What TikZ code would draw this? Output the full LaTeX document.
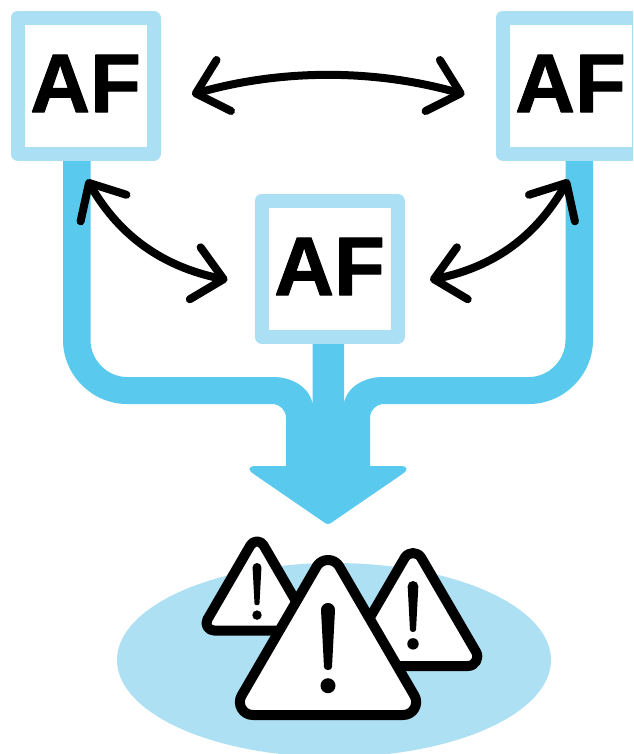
\documentclass[tikz,border=0pt]{standalone}
\usepackage{fontspec}
\setmainfont{Liberation Sans}
\newfontfamily\affont[FakeBold=1.2]{Liberation Sans Bold}
\usetikzlibrary{arrows.meta}
\definecolor{pipeblue}{HTML}{59CAEE}
\definecolor{lightblue}{HTML}{ABE0F4}
\definecolor{poolblue}{HTML}{AEE0F3}
\tikzset{
  afbox/.style={draw=lightblue,fill=white,line width=14pt,line join=round,outer sep=0pt,inner sep=0pt,
    minimum width=136pt,minimum height=136pt,text=black,
    font=\fontsize{83}{83}\affont,text height=60pt,text depth=7.4pt},
  barb/.tip={Straight Barb[round,length=29pt,width=53pt]},
  link/.style={draw=black,line width=8pt,{barb}-{barb}},
  warntri/.style={draw=black,fill=white,line width=10pt,line join=round},
}
% centre x, sharp apex y, base y, half width, tangent length
\newcommand\warnshape[5]{%
  \pgfmathsetmacro\wL{veclen(#4,#3-#2)}%
  \pgfmathsetmacro\wux{(#4)/\wL}%
  \pgfmathsetmacro\wuy{(#3-#2)/\wL}%
  \pgfmathsetmacro\wt{#5}%
  \pgfmathsetmacro\wh{0.556*#5}%
  \draw[warntri] ({#1-#4+\wt},#3) .. controls ({#1-#4+\wh},#3) and ({#1-#4+\wh*\wux},{#3-\wh*\wuy}) .. ({#1-#4+\wt*\wux},{#3-\wt*\wuy})
    -- ({#1-\wt*\wux},{#2+\wt*\wuy}) .. controls ({#1-\wh*\wux},{#2+\wh*\wuy}) and ({#1+\wh*\wux},{#2+\wh*\wuy}) .. ({#1+\wt*\wux},{#2+\wt*\wuy})
    -- ({#1+#4-\wt*\wux},{#3-\wt*\wuy}) .. controls ({#1+#4-\wh*\wux},{#3-\wh*\wuy}) and ({#1+#4-\wh},#3) .. ({#1+#4-\wt},#3) -- cycle;}
\newcommand\warnmark[3]{\begin{scope}[shift={(#1,#2)},scale=#3]
  \fill[black] (-7,7) .. controls (-7,3) and (-4,0) .. (0,0) .. controls (4,0) and (7,3) .. (7,7)
     -- (4,64) .. controls (4,68) and (-4,68) .. (-4,64) -- cycle;
  \fill[black] (0,82.7) circle[radius=7.5];
\end{scope}}
\begin{document}
\begin{tikzpicture}[x=1pt,y=-1pt]
\useasboundingbox (0,0) rectangle (633,754);
\clip (0,0) rectangle (633,754);
% pipes
\fill[pipeblue] (63,150) -- (63,340) .. controls (63,375) and (92,404) .. (127,404)
  -- (272,404) .. controls (280,404) and (286,410) .. (286,418) -- (286,470)
  -- (370,470) -- (370,418) .. controls (370,410) and (376,404) .. (384,404)
  -- (529,404) .. controls (564,404) and (593,375) .. (593,340) -- (593,150)
  -- (565.5,150) -- (565.5,340) .. controls (565.5,360) and (549,377) .. (529,377)
  -- (383,377) .. controls (363,377) and (346,388) .. (344,404) -- (344,335)
  -- (312.5,335) -- (312.5,404) .. controls (310,388) and (293,377) .. (273,377)
  -- (127,377) .. controls (107,377) and (90.5,360) .. (90.5,340) -- (90.5,150) -- cycle;
\fill[pipeblue] (328,466) [rounded corners=14pt] -- (242,466) [rounded corners=3pt] -- (328,525) [rounded corners=14pt] -- (414,466) -- cycle;
% boxes
\node[afbox] (afleft) at (85.5,85.75) {AF};
\node[afbox] (afright) at (570.5,85.75) {AF};
\node[afbox] (afmid) at (329.5,268.75) {AF};
% link ends
\coordinate (topa) at (192,94.5);
\coordinate (topb) at (464.5,94.5);
\coordinate (lefta) at (87,179.5);
\coordinate (leftb) at (227.5,280);
\coordinate (righta) at (568.5,179.5);
\coordinate (rightb) at (430,280);
\draw[link] (topa) .. controls (282,69) and (374,69) .. (topb);
\draw[link] (lefta) .. controls (120,236.5) and (163,266.6) .. (leftb);
\draw[link] (righta) .. controls (535.5,236.5) and (494.5,266.6) .. (rightb);
% warning signs
\fill[poolblue] (334,660) ellipse[x radius=217,y radius=97];
\warnshape{257}{534}{630.5}{56}{12.9}
\warnmark{257}{563}{0.63}
\warnshape{413}{543.6}{666}{71.3}{16.4}
\warnmark{413}{581}{0.76}
\warnshape{328}{547}{715}{97.7}{22.5}
\warnmark{328}{603}{1}
\end{tikzpicture}
\end{document}
